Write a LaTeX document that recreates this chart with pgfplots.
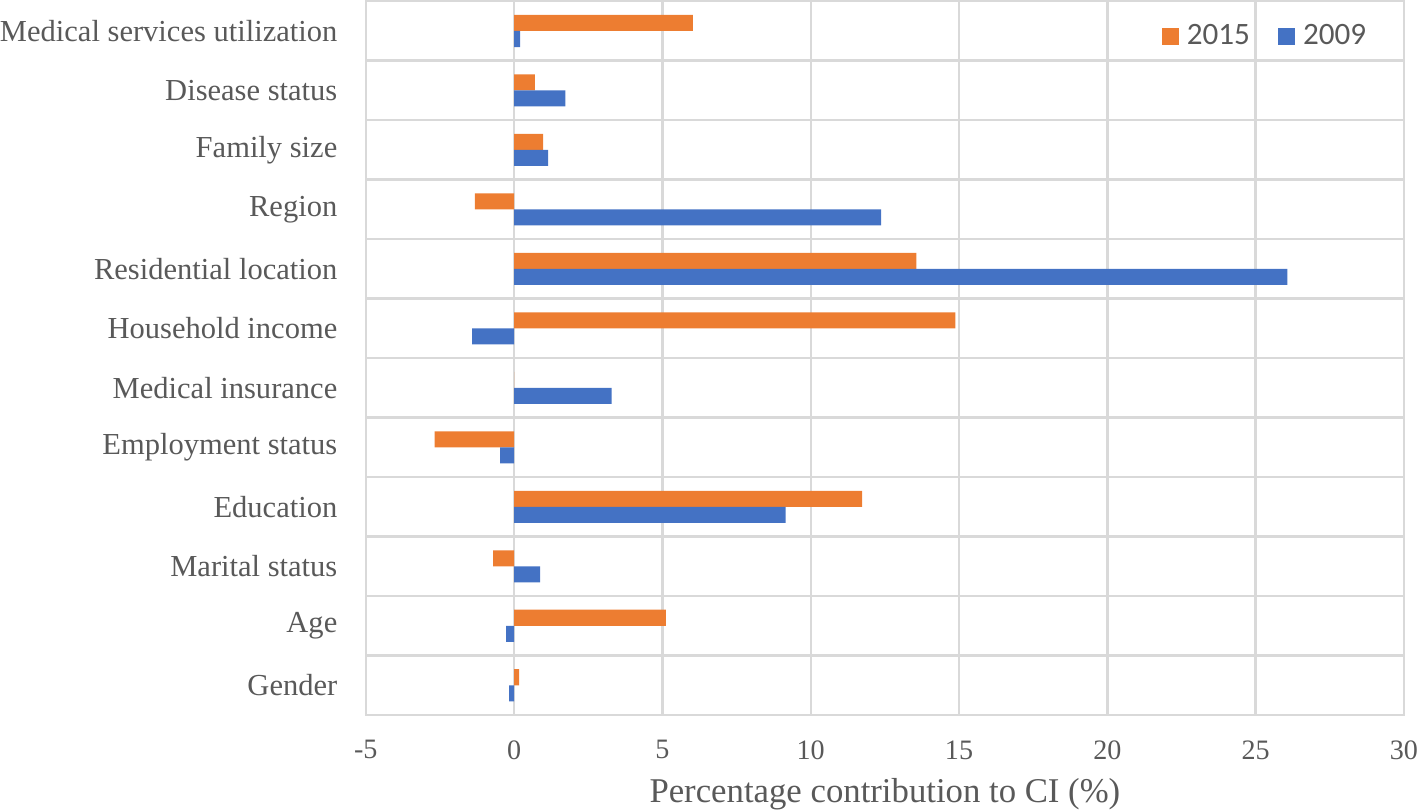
\documentclass[border=0pt]{standalone}
\usepackage{pgfplots}
\pgfplotsset{compat=1.18}
\usepackage{fontspec}
\setmainfont{Liberation Serif}
\newfontfamily\carlito{Carlito}
\definecolor{cOr}{HTML}{ED7D31}
\definecolor{cBl}{HTML}{4472C4}
\definecolor{cGrid}{HTML}{D9D9D9}
\definecolor{cTxt}{HTML}{595959}
\begin{document}
\begin{tikzpicture}
\begin{axis}[
  scale only axis,
  width=517pt, height=355.5pt,
  xmin=-5, xmax=30,
  ymin=-0.5, ymax=11.5,
  xtick={-5,0,5,10,15,20,25,30},
  xticklabels={-5,0,5,10,15,20,25,30},
  ytick={0,1,2,3,4,5,6,7,8,9,10,11},
  yticklabels={Gender,Age,Marital status,Education,Employment status,Medical insurance,Household income,Residential location,Region,Family size,Disease status,Medical services utilization},
  minor ytick={-0.5,0.5,1.5,2.5,3.5,4.5,5.5,6.5,7.5,8.5,9.5,10.5,11.5},
  xmajorgrids, yminorgrids,
  grid style={cGrid, line width=1.2pt},
  minor grid style={cGrid, line width=1.2pt},
  axis line style={cGrid, line width=1.2pt},
  major tick length=0pt, minor tick length=0pt,
  tick label style={text=cTxt, inner sep=0pt},
  xticklabel style={font=\fontsize{14}{16}\selectfont, yshift=-12.5pt},
  yticklabel style={font=\fontsize{15.2}{18}\selectfont, xshift=-14pt},
  xlabel={Percentage contribution to CI (\%)},
  xlabel style={font=\fontsize{17.3}{20}\selectfont, text=cTxt, inner sep=0pt, yshift=-9pt},
  xbar, bar width=8pt,
  legend columns=2,
  legend style={draw=none, fill=none, at={(0.869,0.951)}, anchor=center,
    font=\carlito\fontsize{15.5}{18}\selectfont, text=cTxt,
    /tikz/every even column/.append style={column sep=10pt},
    nodes={inner xsep=4pt}},
  legend image code/.code={\fill[#1] (0pt,-4.2pt) rectangle (8.5pt,4.2pt);},
  clip=false,
]
\addplot[draw=none, fill=cOr, bar shift=4pt] coordinates {
(0.17,0) (5.12,1) (-0.71,2) (11.73,3) (-2.68,4) (0,5) (14.88,6) (13.56,7) (-1.32,8) (0.98,9) (0.70,10) (6.03,11)};
\addlegendentry{2015}
\addplot[draw=none, fill=cBl, bar shift=-4pt] coordinates {
(-0.17,0) (-0.27,1) (0.88,2) (9.15,3) (-0.47,4) (3.29,5) (-1.42,6) (26.07,7) (12.37,8) (1.15,9) (1.73,10) (0.20,11)};
\addlegendentry{2009}
\end{axis}
\end{tikzpicture}
\end{document}
